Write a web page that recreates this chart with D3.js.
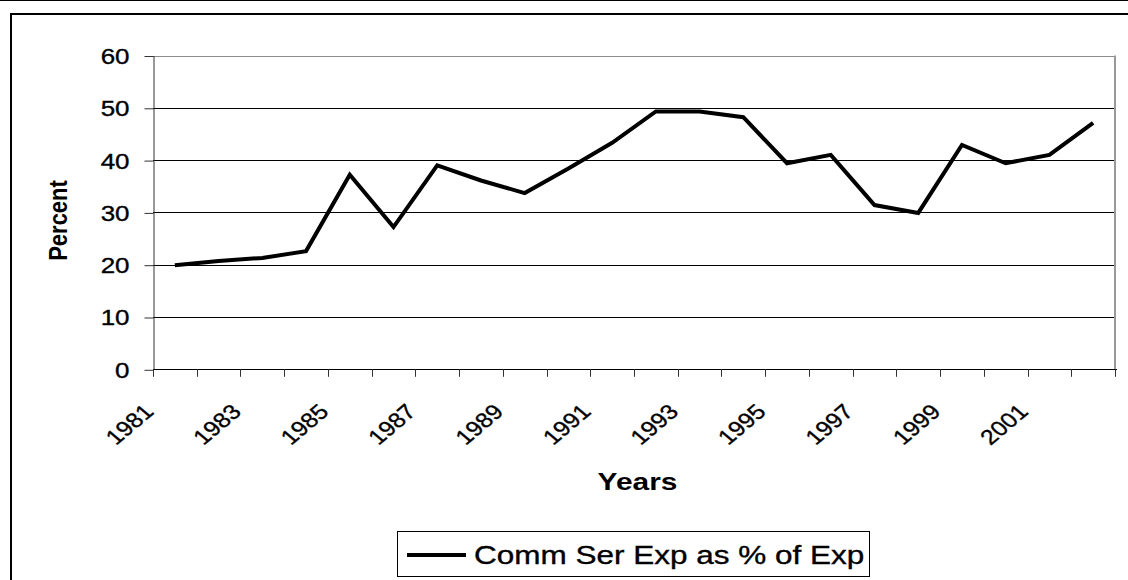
<!DOCTYPE html>
<html>
<head>
<meta charset="utf-8">
<script src="https://cdn.jsdelivr.net/npm/d3@7"></script>
<style>
  body { margin: 0; background: #fff; }
  text { font-family: "Liberation Sans", Arial, sans-serif; fill: #000; }
  .soft { stroke: #000; stroke-width: 0.35px; }
</style>
</head>
<body>
<div id="chart"></div>
<script>
// data
var years = [1981, 1982, 1983, 1984, 1985, 1986, 1987, 1988, 1989, 1990, 1991,
             1992, 1993, 1994, 1995, 1996, 1997, 1998, 1999, 2000, 2001, 2002];
var values = [19.9, 20.7, 21.3, 22.6, 37.2, 27.2, 39.0, 36.1, 33.7, 38.4, 43.3,
              49.3, 49.3, 48.2, 39.4, 41.0, 31.4, 29.9, 42.9, 39.4, 41.0, 47.1];
var yTicks = [0, 10, 20, 30, 40, 50, 60];
var labelYears = [1981, 1983, 1985, 1987, 1989, 1991, 1993, 1995, 1997, 1999, 2001];
var seriesName = "Comm Ser Exp as % of Exp";

var W = 1128, H = 580;
var plot = {left: 153, right: 1115, top: 55.5, bottom: 369.3};

var svg = d3.select("#chart").append("svg")
    .attr("width", W)
    .attr("height", H);

svg.append("rect").attr("width", W).attr("height", H).attr("fill", "#fff");

// thin rule at the very top, then the chart frame
svg.append("line")
    .attr("x1", 0).attr("x2", W)
    .attr("y1", 0.5).attr("y2", 0.5)
    .attr("stroke", "#000");
svg.append("rect")
    .attr("x", 11).attr("y", 14)
    .attr("width", W + 20).attr("height", H + 20)
    .attr("fill", "none")
    .attr("stroke", "#000")
    .attr("stroke-width", 2);

var x = d3.scaleBand().domain(years).range([plot.left, plot.right]);
var y = d3.scaleLinear().domain([0, 60]).range([plot.bottom, plot.top]);

function crisp(v) { return Math.round(v) + 0.5; }

// horizontal gridlines
svg.append("g")
  .selectAll("line")
  .data(yTicks.filter(function(d) { return d > 0 && d < 60; }))
  .join("line")
    .attr("x1", plot.left).attr("x2", plot.right)
    .attr("y1", function(d) { return crisp(y(d)); })
    .attr("y2", function(d) { return crisp(y(d)); })
    .attr("stroke", "#000")
    .attr("stroke-width", 1);

// plot border top/right (grey)
svg.append("line")
    .attr("x1", plot.left).attr("x2", plot.right + 1)
    .attr("y1", crisp(y(60))).attr("y2", crisp(y(60)))
    .attr("stroke", "#8c8c8c");
svg.append("line")
    .attr("x1", plot.right).attr("x2", plot.right)
    .attr("y1", y(60)).attr("y2", y(0))
    .attr("stroke", "#999")
    .attr("stroke-width", 2);

// y axis
var yAxis = svg.append("g")
    .attr("transform", "translate(" + (plot.left + 0.5) + ",0)")
    .call(d3.axisLeft(y).tickValues(yTicks).tickSize(9).tickPadding(16).tickSizeOuter(0));
yAxis.select(".domain").attr("stroke", "#333");
yAxis.selectAll(".tick line").attr("stroke", "#333")
    .attr("transform", "translate(0,0.5)");
yAxis.selectAll(".tick text")
    .attr("class", "soft")
    .attr("font-size", 22)
    .attr("x", -24 / 1.18)
    .attr("dy", "0.36em")
    .attr("transform", "scale(1.18,1)");

// x axis line and ticks on category boundaries
var bounds = years.map(function(d) { return x(d); }).concat([plot.right]);
svg.append("line")
    .attr("x1", plot.left).attr("x2", plot.right + 2)
    .attr("y1", crisp(y(0))).attr("y2", crisp(y(0)))
    .attr("stroke", "#000");
svg.append("g")
  .selectAll("line")
  .data(bounds)
  .join("line")
    .attr("x1", function(d) { return crisp(d); })
    .attr("x2", function(d) { return crisp(d); })
    .attr("y1", y(0)).attr("y2", y(0) + 7.5)
    .attr("stroke", "#333");

// rotated year labels
svg.append("g")
  .selectAll("text")
  .data(labelYears)
  .join("text")
    .attr("class", "soft")
    .attr("text-anchor", "end")
    .attr("font-size", 21)
    .attr("transform", function(d) {
      return "translate(" + (x(d) + 2) + ",413) scale(1.18,1) rotate(-45)";
    })
    .text(function(d) { return d; });

// the series
var line = d3.line()
    .x(function(d, i) { return x(years[i]) + x.bandwidth() / 2; })
    .y(function(d) { return y(d); });
svg.append("path")
    .datum(values)
    .attr("d", line)
    .attr("fill", "none")
    .attr("stroke", "#000")
    .attr("stroke-width", 4)
    .attr("stroke-linejoin", "miter");

// axis titles
svg.append("text")
    .attr("text-anchor", "middle")
    .attr("font-size", 23)
    .attr("font-weight", "bold")
    .attr("transform", "translate(637.5,490) scale(1.3,1)")
    .text("Years");
svg.append("text")
    .attr("text-anchor", "middle")
    .attr("font-size", 22)
    .attr("font-weight", "bold")
    .attr("transform", "translate(66.5,220.5) scale(1.2,1) rotate(-90)")
    .text("Percent");

// legend
var lg = svg.append("g");
lg.append("rect")
    .attr("x", 397.5).attr("y", 531.5)
    .attr("width", 472).attr("height", 45)
    .attr("fill", "#fff")
    .attr("stroke", "#000");
lg.append("line")
    .attr("x1", 407).attr("x2", 466)
    .attr("y1", 555).attr("y2", 555)
    .attr("stroke", "#000")
    .attr("stroke-width", 4);
lg.append("text")
    .attr("class", "soft")
    .attr("font-size", 25)
    .attr("transform", "translate(474,564) scale(1.26,1)")
    .text(seriesName);
</script>
</body>
</html>
